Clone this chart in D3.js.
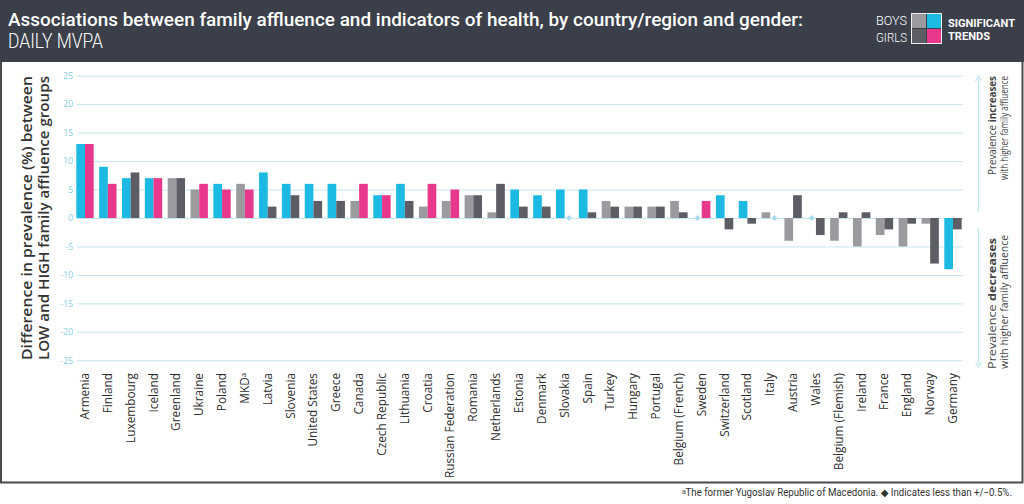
<!DOCTYPE html>
<html><head><meta charset="utf-8">
<script src="https://cdn.jsdelivr.net/npm/d3@7"></script>
<style>
html,body{margin:0;padding:0;background:#fff;}
svg{display:block;}
</style></head>
<body>
<svg id="c" width="1024" height="504"></svg>
<script>
const countries = ["Armenia","Finland","Luxembourg","Iceland","Greenland","Ukraine","Poland","MKD\u1d43","Latvia","Slovenia","United States","Greece","Canada","Czech Republic","Lithuania","Croatia","Russian Federation","Romania","Netherlands","Estonia","Denmark","Slovakia","Spain","Turkey","Hungary","Portugal","Belgium (French)","Sweden","Switzerland","Scotland","Italy","Austria","Wales","Belgium (Flemish)","Ireland","France","England","Norway","Germany"];
const boys  = [13,9,7,7,7,5,6,6,8,6,6,6,3,4,6,2,3,4,1,5,4,5,5,3,2,2,3,0,4,3,1,-4,0,-4,-5,-3,-5,-1,-9];
const girls = [13,6,8,7,7,6,5,5,2,4,3,3,6,4,3,6,5,4,6,2,2,0,1,2,2,2,1,3,-2,-1,0,4,-3,1,1,-2,-1,-8,-2];
const boysSig  = [1,1,1,1,0,0,1,0,1,1,1,1,0,1,1,0,0,0,0,1,1,1,1,0,0,0,0,0,1,1,0,0,0,0,0,0,0,0,1];
const girlsSig = [1,1,0,1,0,1,1,1,0,0,0,0,1,1,0,1,1,0,0,0,0,0,0,0,0,0,0,1,0,0,0,0,0,0,0,0,0,0,0];
const yTicks = [25,20,15,10,5,0,-5,-10,-15,-20,-25];

const C = {cyan:"#1cb9e3", pink:"#e8388b", lgrey:"#9b9b9f", dgrey:"#5c5d65", head:"#3a3f49", grid:"#c5e6ee", tick:"#86cbe6"};
const HF = "Roboto, Liberation Sans, sans-serif";

const svg = d3.select("#c");
// header
svg.append("rect").attr("x",0).attr("y",0).attr("width",1024).attr("height",62).attr("fill",C.head);
svg.append("text").attr("x",8).attr("y",26).attr("fill","#fff")
  .attr("font-family",HF).attr("font-size",19.2).attr("font-weight",500)
  .attr("textLength",795).attr("lengthAdjust","spacingAndGlyphs")
  .text("Associations between family affluence and indicators of health, by country/region and gender:");
svg.append("text").attr("x",8).attr("y",48).attr("fill","#fff")
  .attr("font-family",HF).attr("font-size",20).attr("font-weight",300)
  .attr("textLength",95).attr("lengthAdjust","spacingAndGlyphs")
  .text("DAILY MVPA");
// legend
const lg = svg.append("g");
[[912,14,C.lgrey],[927,14,C.cyan],[912,29,C.dgrey],[927,29,C.pink]].forEach(d=>{
  lg.append("rect").attr("x",d[0]).attr("y",d[1]).attr("width",14).attr("height",14).attr("fill",d[2]);
});
lg.append("rect").attr("x",911.5).attr("y",13.5).attr("width",30).attr("height",30).attr("fill","none").attr("stroke","#eee").attr("stroke-width",1);
lg.append("text").attr("x",907).attr("y",25).attr("text-anchor","end").attr("fill","#fff").attr("font-family",HF).attr("font-size",12.5).attr("font-weight",300).attr("textLength",31).attr("lengthAdjust","spacingAndGlyphs").text("BOYS");
lg.append("text").attr("x",907).attr("y",42).attr("text-anchor","end").attr("fill","#fff").attr("font-family",HF).attr("font-size",12.5).attr("font-weight",300).attr("textLength",31).attr("lengthAdjust","spacingAndGlyphs").text("GIRLS");
lg.append("text").attr("x",948).attr("y",27).attr("fill","#fff").attr("font-family",HF).attr("font-size",11.5).attr("font-weight",700).attr("textLength",67).attr("lengthAdjust","spacingAndGlyphs").text("SIGNIFICANT");
lg.append("text").attr("x",948).attr("y",40).attr("fill","#fff").attr("font-family",HF).attr("font-size",11.5).attr("font-weight",700).attr("textLength",42).attr("lengthAdjust","spacingAndGlyphs").text("TRENDS");

// frame
svg.append("path").attr("d","M1,62 V482.5 H1022.5 V62").attr("fill","none").attr("stroke","#4a4a4f").attr("stroke-width",2);

// scales
const x = d3.scaleBand().domain(countries).range([73.58,964.42]).paddingInner(0.24).paddingOuter(0.12);
const y = d3.scaleLinear().domain([-25,25]).range([360.3,75.7]);
const sub = d3.scaleBand().domain(["b","g"]).range([0,x.bandwidth()]);

// grid + y axis
const yAxis = d3.axisLeft(y).tickValues(yTicks).tickSize(-(963-77)).tickFormat(d=>d);
const ya = svg.append("g").attr("transform","translate(77,0)").call(yAxis);
ya.select(".domain").remove();
ya.selectAll(".tick line").attr("stroke",C.grid).attr("stroke-width",1);
ya.selectAll(".tick text").attr("fill",C.tick).attr("font-family","Open Sans, Noto Sans, sans-serif").attr("font-size",8.5).attr("x",-4);

// bars
const data = countries.map((c,i)=>({c,i}));
const g = svg.append("g");
function drawSeries(vals, sig, key, colSig, colNon){
  const d = data.filter(o=>Math.abs(vals[o.i])>=0.5);
  g.selectAll(null).data(d).enter().append("rect")
    .attr("x",o=>x(o.c)+sub(key))
    .attr("width",sub.bandwidth())
    .attr("y",o=>y(Math.max(0,vals[o.i])))
    .attr("height",o=>Math.abs(y(vals[o.i])-y(0)))
    .attr("fill",o=>sig[o.i]?colSig:colNon);
  const z = data.filter(o=>Math.abs(vals[o.i])<0.5);
  g.selectAll(null).data(z).enter().append("path")
    .attr("transform",o=>`translate(${x(o.c)+sub(key)+sub.bandwidth()/2},${y(0)})`)
    .attr("d",d3.symbol(d3.symbolDiamond2,22))
    .attr("fill","#a9dcf0");
}
drawSeries(boys, boysSig, "b", C.cyan, C.lgrey);
drawSeries(girls, girlsSig, "g", C.pink, C.dgrey);

// x labels
const xa = svg.append("g");
xa.selectAll(null).data(countries).enter().append("text")
  .attr("transform",d=>`translate(${x(d)+x.bandwidth()/2+4},373) rotate(-90)`)
  .attr("text-anchor","end")
  .attr("fill","#2e2e2e")
  .attr("font-family","Open Sans, Noto Sans, sans-serif").attr("font-size",11.8)
  .text(d=>d);

// y title
const yt = svg.append("g").attr("font-family","Open Sans, Noto Sans, sans-serif").attr("font-weight",600).attr("fill","#333").attr("font-size",15);
yt.append("text").attr("transform","translate(32,218) rotate(-90)").attr("text-anchor","middle").attr("textLength",284).attr("lengthAdjust","spacingAndGlyphs").text("Difference in prevalence (%) between");
yt.append("text").attr("transform","translate(49,218) rotate(-90)").attr("text-anchor","middle").attr("textLength",284).attr("lengthAdjust","spacingAndGlyphs").text("LOW and HIGH family affluence groups");

// right annotation
const ra = svg.append("g");
ra.append("line").attr("x1",978.5).attr("x2",978.5).attr("y1",79).attr("y2",212).attr("stroke","#bfe4f2").attr("stroke-width",1.2);
ra.append("line").attr("x1",978.5).attr("x2",978.5).attr("y1",228).attr("y2",364).attr("stroke","#bfe4f2").attr("stroke-width",1.2);
ra.append("path").attr("d","M975.5,81 L978.5,76 L981.5,81").attr("fill","none").attr("stroke","#bfe4f2").attr("stroke-width",1.2);
ra.append("path").attr("d","M975.5,362 L978.5,367 L981.5,362").attr("fill","none").attr("stroke","#bfe4f2").attr("stroke-width",1.2);
const af = "Open Sans, Noto Sans, sans-serif";
const t1 = ra.append("text").attr("transform","translate(996,76) rotate(-90)").attr("text-anchor","end").attr("font-family",af).attr("font-size",10).attr("fill","#444").attr("textLength",99).attr("lengthAdjust","spacingAndGlyphs");
t1.append("tspan").text("Prevalence ");
t1.append("tspan").attr("font-weight",700).text("increases");
ra.append("text").attr("transform","translate(1008,76) rotate(-90)").attr("text-anchor","end").attr("font-family",af).attr("font-size",10).attr("fill","#444").attr("textLength",104).attr("lengthAdjust","spacingAndGlyphs").text("with higher family affluence");
const t2 = ra.append("text").attr("transform","translate(996,369) rotate(-90)").attr("text-anchor","start").attr("font-family",af).attr("font-size",10).attr("fill","#444").attr("textLength",131).attr("lengthAdjust","spacingAndGlyphs");
t2.append("tspan").text("Prevalence ");
t2.append("tspan").attr("font-weight",700).text("decreases");
ra.append("text").attr("transform","translate(1008,369) rotate(-90)").attr("text-anchor","start").attr("font-family",af).attr("font-size",10).attr("fill","#444").attr("textLength",134).attr("lengthAdjust","spacingAndGlyphs").text("with higher family affluence");

// footnote
svg.append("text").attr("x",1012).attr("y",496).attr("text-anchor","end").attr("font-family",HF).attr("font-size",10).attr("fill","#333")
  .attr("textLength",330).attr("lengthAdjust","spacingAndGlyphs")
  .text("\u1d43The former Yugoslav Republic of Macedonia. \u25c6 Indicates less than +/\u22120.5%.");
</script>
</body></html>
